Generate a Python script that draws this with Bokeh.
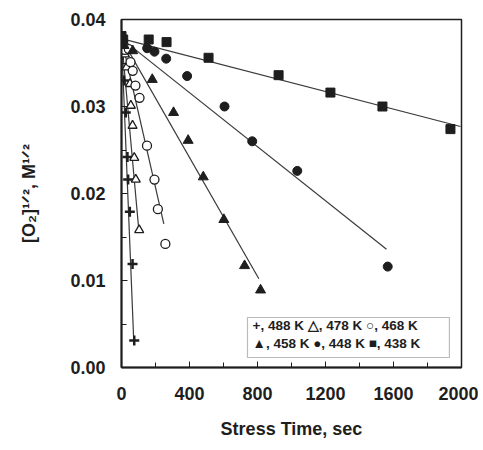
from bokeh.plotting import figure
from bokeh.models import Range1d, FixedTicker, NumeralTickFormatter, Label, BoxAnnotation
from bokeh.embed import file_html
from bokeh.resources import INLINE

# ---- data ----
x_ticks = [0, 400, 800, 1200, 1600, 2000]
x_minor = [200, 600, 1000, 1400, 1800]
y_ticks = [0.0, 0.01, 0.02, 0.03, 0.04]
y_minor = [0.005, 0.015, 0.025, 0.035]

x_488 = [5, 14, 25, 35, 39, 49, 65, 75]
y_488 = [0.0360, 0.0330, 0.0293, 0.0242, 0.0216, 0.0179, 0.0119, 0.0031]
x_478 = [20, 30, 50, 55, 65, 75, 84, 104]
y_478 = [0.0360, 0.0345, 0.0326, 0.0301, 0.0278, 0.0241, 0.0216, 0.0158]
x_468 = [20, 43, 53, 66, 82, 106, 150, 194, 214, 258]
y_468 = [0.0365, 0.0366, 0.0351, 0.0341, 0.0324, 0.0310, 0.0255, 0.0216, 0.0182, 0.0142]
x_458 = [15, 66, 181, 306, 392, 481, 602, 724, 818]
y_458 = [0.0370, 0.0364, 0.0331, 0.0293, 0.0261, 0.0219, 0.0170, 0.0117, 0.0089]
x_448 = [10, 151, 194, 263, 386, 606, 769, 1034, 1566]
y_448 = [0.0375, 0.0367, 0.0363, 0.0355, 0.0335, 0.0300, 0.0260, 0.0226, 0.0116]
x_438 = [0, 10, 160, 265, 512, 924, 1229, 1535, 1935]
y_438 = [0.0381, 0.0377, 0.0377, 0.0374, 0.0356, 0.0336, 0.0316, 0.0300, 0.0274]

# fitted lines: start point and end point per series (488,478,468,458,448,438)
fit_x0 = [0, 0, 0, 0, 0, 0]
fit_y0 = [0.0378, 0.0378, 0.0378, 0.0378, 0.0378, 0.0378]
fit_x1 = [72, 100, 249, 808, 1559, 1994]
fit_y1 = [0.0031, 0.0162, 0.0165, 0.0102, 0.0136, 0.0277]

legend_row1 = "+, 488 K  \u25b3, 478 K  \u25cb, 468 K"
legend_row2 = "\u25b2, 458 K  \u25cf, 448 K  \u25a0, 438 K"
x_title = "Stress Time, sec"
y_title = "[O\u2082]\u00b9\u141f\u00b2, M\u00b9\u141f\u00b2"

INK = "#1e1e1e"
FONT = "Liberation Sans"

p = figure(width=478, height=442, output_backend="svg", toolbar_location=None,
           x_range=Range1d(0, 2000), y_range=Range1d(0, 0.04),
           min_border_left=121, min_border_right=17, min_border_top=19, min_border_bottom=75)
p.grid.visible = False
p.background_fill_color = "white"
p.border_fill_color = "white"
p.outline_line_color = INK
p.outline_line_width = 1.5

# fit lines
for a, b, c, d in zip(fit_x0, fit_y0, fit_x1, fit_y1):
    p.line([a, c], [b, d], line_color="#3a3a3a", line_width=1.2)

# markers
p.scatter(x_488, y_488, marker="cross", size=10, line_width=2.5, color=INK)
p.scatter(x_478, y_478, marker="triangle", size=9, line_width=1.3, line_color=INK, fill_color="white")
p.scatter(x_468, y_468, marker="circle", size=9, line_width=1.3, line_color=INK, fill_color="white")
p.scatter(x_458, y_458, marker="triangle", size=10, color=INK)
p.scatter(x_448, y_448, marker="circle", size=9, color=INK)
p.scatter(x_438, y_438, marker="square", size=9, color=INK)

# axes
for ax in (p.xaxis[0], p.yaxis[0]):
    ax.axis_line_width = 2
    ax.axis_line_color = INK
    ax.major_tick_in = 6
    ax.major_tick_out = 0
    ax.minor_tick_in = 5
    ax.minor_tick_out = 0
    ax.major_tick_line_color = INK
    ax.minor_tick_line_color = INK
    ax.major_label_text_font = FONT
    ax.major_label_text_font_size = "18px"
    ax.major_label_text_font_style = "bold"
    ax.major_label_text_color = INK
    ax.axis_label_text_font = FONT
    ax.axis_label_text_font_size = "18px"
    ax.axis_label_text_font_style = "bold"
    ax.axis_label_text_color = INK

p.xaxis.ticker = FixedTicker(ticks=x_ticks, minor_ticks=x_minor)
p.yaxis.ticker = FixedTicker(ticks=y_ticks, minor_ticks=y_minor)
p.yaxis.formatter = NumeralTickFormatter(format="0.00")
p.xaxis.major_label_standoff = 19
p.yaxis.major_label_standoff = 16

p.xaxis.axis_label = x_title
p.xaxis.axis_label_standoff = 16
p.yaxis.axis_label = y_title
p.yaxis.axis_label_standoff = 28

# legend box
p.add_layout(BoxAnnotation(left=741, right=1929, bottom=0.00115, top=0.00575,
                           fill_color="white", fill_alpha=1.0,
                           line_color=INK, line_width=1.2, level="overlay"))
for txt, yy in ((legend_row1, 0.00483), (legend_row2, 0.00276)):
    p.add_layout(Label(x=771, y=yy, text=txt, text_font=FONT, text_font_size="13.5px",
                       text_font_style="bold", text_color=INK,
                       text_baseline="middle", text_align="left", level="overlay"))

open("out.html", "w").write(file_html(p, INLINE))
